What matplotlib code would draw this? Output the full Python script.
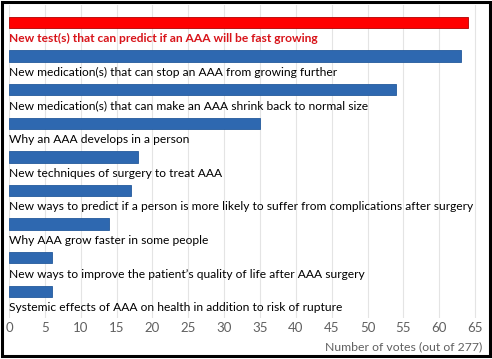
import matplotlib
matplotlib.use('Agg')
import matplotlib.pyplot as plt
from matplotlib.patches import Rectangle

# survey responses, top to bottom
topics = [
    'New test(s) that can predict if an AAA will be fast growing',
    'New medication(s) that can stop an AAA from growing further',
    'New medication(s) that can make an AAA shrink back to normal size',
    'Why an AAA develops in a person',
    'New techniques of surgery to treat AAA',
    'New ways to predict if a person is more likely to suffer from complications after surgery',
    'Why AAA grow faster in some people',
    'New ways to improve the patient\u2019s quality of life after AAA surgery',
    'Systemic effects of AAA on health in addition to risk of rupture',
]
votes = [64, 63, 54, 35, 18, 17, 14, 6, 6]
x_ticks = list(range(0, 70, 5))

RED = '#ff0000'
BLUE = '#2e68b0'
FONT = 'Lato'

fig = plt.figure(figsize=(4.92, 3.59), dpi=100)
W, H = 492, 359
# axes placed in pixel terms so bars line up with the picture
left_px, right_px, top_px, bottom_px = 9, 484, 5, 318
ax = fig.add_axes([left_px / W, 1 - bottom_px / H,
                   (right_px - left_px) / W, (bottom_px - top_px) / H])

spacing = 33.6
first_center = 22.5
ymin = (top_px - first_center) / spacing
ymax = (bottom_px - first_center) / spacing

ys = list(range(len(votes)))
colors = [RED] + [BLUE] * (len(votes) - 1)
edges = ['#b00000'] + ['#245a9c'] * (len(votes) - 1)
ax.barh(ys, votes, height=0.34, color=colors, edgecolor=edges, linewidth=0.6, zorder=3)

for y, label in zip(ys, topics):
    is_top = y == 0
    ax.text(0, y + 0.49, label, va='center', ha='left',
            fontsize=8.65, family=FONT, fontweight='bold' if is_top else 'normal',
            color='#d8141a' if is_top else '#000000', zorder=4)

ax.set_xlim(0, (right_px - left_px) / 7.17)
ax.set_ylim(ymax, ymin)
ax.set_xticks(x_ticks)
ax.set_xticklabels([str(t) for t in x_ticks], family=FONT, fontsize=9.5, color='#606060')
ax.tick_params(axis='x', length=0, pad=3)
ax.set_yticks([])
ax.grid(axis='x', color='#e4e4e4', linewidth=0.8, zorder=0)
for s in ax.spines.values():
    s.set_visible(False)

fig.text(482 / W, 1 - 347 / H, 'Number of votes (out of 277)', ha='right', va='center',
         family=FONT, fontsize=8.8, color='#606060')

# black frame around the whole picture
fig.patches.append(Rectangle((1.5 / W, 1 - 356 / H), 488 / W, 354.5 / H,
                             transform=fig.transFigure, fill=False,
                             edgecolor='black', linewidth=2.2))

fig.savefig('out.png', dpi=100)
